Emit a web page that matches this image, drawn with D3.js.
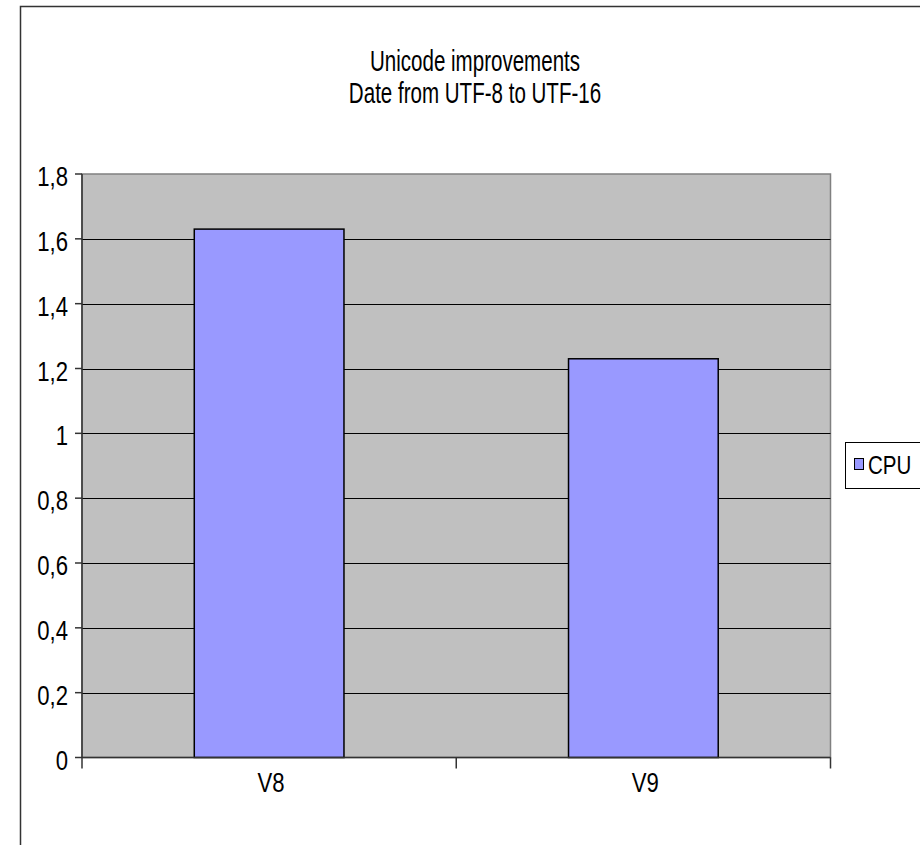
<!DOCTYPE html>
<html>
<head>
<meta charset="utf-8">
<script src="https://cdn.jsdelivr.net/npm/d3@7"></script>
<style>
  html, body { margin: 0; padding: 0; background: #fff; }
  svg { display: block; }
  text { font-family: "Liberation Sans", Arial, sans-serif; fill: #000; }
</style>
</head>
<body>
<script>
// Chart content
const titleLines = ["Unicode improvements", "Date from UTF-8 to UTF-16"];
const categories = ["V8", "V9"];
const cpuValues = [1.63, 1.23];
const seriesName = "CPU";
const yTicks = [0, 0.2, 0.4, 0.6, 0.8, 1, 1.2, 1.4, 1.6, 1.8];

const W = 920, H = 845;
const plot = { left: 82, top: 174, right: 830.5, bottom: 757.5 };

const svg = d3.select("body").append("svg")
  .attr("width", W).attr("height", H);

// Outer chart frame (right/bottom edges fall outside the page)
svg.append("rect")
  .attr("x", 20.5).attr("y", 6.5)
  .attr("width", 940).attr("height", 900)
  .attr("fill", "#fff").attr("stroke", "#333").attr("stroke-width", 1.5);

const x = d3.scaleBand().domain(categories)
  .range([plot.left, plot.right]).paddingInner(0.6).paddingOuter(0.3);
const xOuter = d3.scaleBand().domain(categories).range([plot.left, plot.right]);
const y = d3.scaleLinear().domain([0, 1.8]).range([plot.bottom, plot.top]);

// Plot area background
svg.append("rect")
  .attr("x", plot.left).attr("y", plot.top)
  .attr("width", plot.right - plot.left).attr("height", plot.bottom - plot.top)
  .attr("fill", "#c0c0c0").attr("stroke", "#808080").attr("stroke-width", 1.5);

// Horizontal gridlines
svg.append("g").selectAll("line")
  .data(yTicks.filter(d => d > 0 && d < 1.8))
  .join("line")
  .attr("x1", plot.left).attr("x2", plot.right)
  .attr("y1", d => Math.round(y(d)) + 0.5).attr("y2", d => Math.round(y(d)) + 0.5)
  .attr("stroke", "#000").attr("stroke-width", 1);

// Bars
svg.append("g").selectAll("rect")
  .data(categories.map((c, i) => ({ c, v: cpuValues[i] })))
  .join("rect")
  .attr("x", d => x(d.c)).attr("width", x.bandwidth())
  .attr("y", d => y(d.v)).attr("height", d => y(0) - y(d.v))
  .attr("fill", "#9999ff").attr("stroke", "#000").attr("stroke-width", 1.5);

// Condensed text helper
const sxTick = 0.79, sxTitle = 0.685;
function condensed(g, tx, ty, sx, str, size, anchor) {
  g.append("text")
    .attr("transform", `translate(${tx},${ty}) scale(${sx},1)`)
    .attr("text-anchor", anchor)
    .attr("font-size", size)
    .text(str);
}

// Y axis
const yAxis = svg.append("g");
yAxis.append("line")
  .attr("x1", plot.left).attr("x2", plot.left)
  .attr("y1", plot.top).attr("y2", plot.bottom)
  .attr("stroke", "#333").attr("stroke-width", 1.5);
yAxis.selectAll("line.tick").data(yTicks).join("line").attr("class", "tick")
  .attr("x1", plot.left - 7).attr("x2", plot.left)
  .attr("y1", d => y(d)).attr("y2", d => y(d))
  .attr("stroke", "#333").attr("stroke-width", 1.5);
const fmt = d => String(d).replace(".", ",");
yTicks.forEach(d => condensed(yAxis, 68, y(d) + 12, sxTick, fmt(d), 28, "end"));

// X axis
const xAxis = svg.append("g");
xAxis.append("line")
  .attr("x1", plot.left).attr("x2", plot.right)
  .attr("y1", plot.bottom).attr("y2", plot.bottom)
  .attr("stroke", "#333").attr("stroke-width", 1.5);
const xTickPos = [plot.left, ...categories.map(c => xOuter(c) + xOuter.bandwidth())];
xAxis.selectAll("line.tick").data(xTickPos).join("line").attr("class", "tick")
  .attr("x1", d => d).attr("x2", d => d)
  .attr("y1", plot.bottom).attr("y2", plot.bottom + 11)
  .attr("stroke", "#333").attr("stroke-width", 1.5);
categories.forEach(c =>
  condensed(xAxis, xOuter(c) + xOuter.bandwidth() / 2 + 2, 792, sxTick, c, 28, "middle"));

// Title
const title = svg.append("g");
titleLines.forEach((t, i) => condensed(title, 475, 71 + i * 32, sxTitle, t, 30, "middle"));

// Legend
const legend = svg.append("g");
legend.append("rect")
  .attr("x", 845.5).attr("y", 442.5).attr("width", 120).attr("height", 46)
  .attr("fill", "#fff").attr("stroke", "#000").attr("stroke-width", 1);
legend.append("rect")
  .attr("x", 854.5).attr("y", 458.5).attr("width", 9).attr("height", 11)
  .attr("fill", "#9999ff").attr("stroke", "#000").attr("stroke-width", 1);
condensed(legend, 868, 474, sxTick, seriesName, 26, "start");
</script>
</body>
</html>
